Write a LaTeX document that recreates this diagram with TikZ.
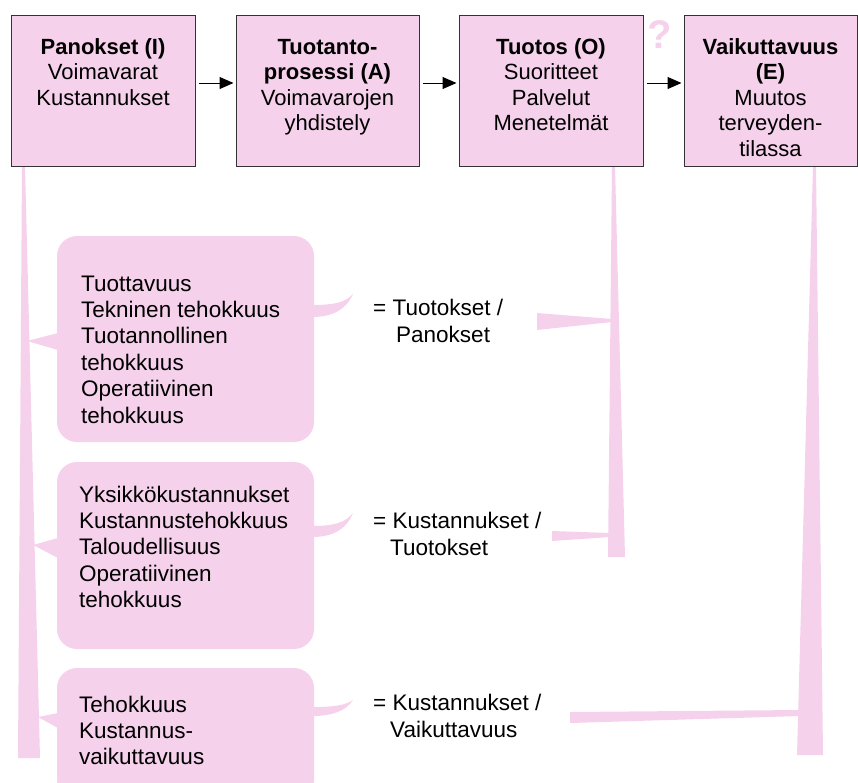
\documentclass[tikz,border=0pt]{standalone}
\usepackage{fontspec}
\setmainfont{Liberation Sans}
\usetikzlibrary{arrows.meta}
\definecolor{rosa}{RGB}{245,209,235}
\tikzset{
  stagebox/.style={draw=black!80, line width=1pt, fill=rosa, minimum height=151pt, inner sep=0pt},
  stagetext/.style={anchor=base, align=center, inner sep=0pt, font=\fontsize{22}{25.5}\selectfont},
  flow/.style={-{Triangle[length=14pt,width=12pt]}, line width=1pt, shorten <=3pt, shorten >=2pt},
  measurebox/.style={fill=rosa, rounded corners=20pt, minimum width=257pt, inner sep=0pt},
  measuretext/.style={anchor=base west, align=left, inner sep=0pt, font=\fontsize{22.5}{26.4}\selectfont},
  ratiotext/.style={anchor=base west, align=left, inner sep=0pt, font=\fontsize{22.5}{27}\selectfont},
}
\begin{document}
\begin{tikzpicture}[x=1pt, y=-1pt]
    \useasboundingbox (0,0) rectangle (858,782);
    \clip (0,0) rectangle (858,782);

    % Tapering bars
    \fill[rosa] (22,166) -- (25,166) -- (40,758) -- (18,758) -- cycle;
    \fill[rosa] (612,166) -- (615,166) -- (625,557) -- (608,557) -- cycle;
    \fill[rosa] (813,166) -- (816,166) -- (823,755) -- (797,755) -- cycle;

    % Wedges towards the ratios
    \fill[rosa] (537,313) -- (612,319) -- (612,322) -- (537,330) -- cycle;
    \fill[rosa] (552,531) -- (610,533) -- (610,537) -- (552,541) -- cycle;
    \fill[rosa] (570,712) -- (800,710) -- (800,716) -- (570,723) -- cycle;

    % Wedges from the left bar
    \fill[rosa] (27,341) -- (58,333) -- (58,350) -- cycle;
    \fill[rosa] (33,545) -- (58,538) -- (58,558) -- cycle;
    \fill[rosa] (38,717) -- (58,713) -- (58,728) -- cycle;

    % Stages (text anchored at the last baseline)
    \node[stagebox, minimum width=184pt] (panokset) at (103,90.5) {};
    \node[stagebox, minimum width=183pt] (prosessi) at (327.5,90.5) {};
    \node[stagebox, minimum width=184pt] (tuotos) at (551,90.5) {};
    \node[stagebox, minimum width=173pt] (vaikutus) at (770.5,90.5) {};

    \node[stagetext] (panokset-t) at (103,105) {\textbf{Panokset (I)}\\Voimavarat\\Kustannukset};
    \node[stagetext] (prosessi-t) at (327.5,130.5) {\textbf{Tuotanto-}\\\textbf{prosessi (A)}\\Voimavarojen\\yhdistely};
    \node[stagetext] (tuotos-t) at (551,130.5) {\textbf{Tuotos (O)}\\Suoritteet\\Palvelut\\Menetelmät};
    \node[stagetext] (vaikutus-t) at (770.5,156) {\textbf{Vaikuttavuus}\\\textbf{(E)}\\Muutos\\terveyden-\\tilassa};

    \draw[flow] (panokset.east |- 0,83) -- (prosessi.west |- 0,83);
    \draw[flow] (prosessi.east |- 0,83) -- (tuotos.west |- 0,83);
    \draw[flow] (tuotos.east |- 0,83) -- (vaikutus.west |- 0,83);

    \node[font=\fontsize{40}{40}\selectfont\bfseries, text=rosa] (kysymys) at (660,35) {?};

    % Measures
    \node[measurebox, minimum height=206pt] (tuottavuus) at (185.5,339) {};
    \node[measurebox, minimum height=187pt] (kustannus) at (185.5,555.5) {};
    \node[measurebox, minimum height=132pt] (tehokkuus) at (185.5,734) {};

    \fill[rosa] (312,305) .. controls (335,305) and (346,302) .. (353,294)
        .. controls (346,310) and (332,317) .. (312,317) -- cycle;
    \fill[rosa] (312,526) .. controls (335,526) and (346,522) .. (353,513)
        .. controls (346,530) and (332,537) .. (312,537) -- cycle;
    \fill[rosa] (312,707) .. controls (335,707) and (346,705) .. (353,700)
        .. controls (346,711) and (332,716) .. (312,716) -- cycle;

    \node[measuretext] (tuottavuus-t) at (81,423) {Tuottavuus\\Tekninen tehokkuus\\Tuotannollinen\\tehokkuus\\Operatiivinen\\tehokkuus};
    \node[measuretext] (kustannus-t) at (79,607.6) {Yksikkökustannukset\\Kustannustehokkuus\\Taloudellisuus\\Operatiivinen\\tehokkuus};
    \node[measuretext] (tehokkuus-t) at (79,764.8) {Tehokkuus\\Kustannus-\\vaikuttavuus};

    % Ratios
    \node[ratiotext] (suhde1) at (373,342) {= Tuotokset /\\\hspace*{23pt}Panokset};
    \node[ratiotext] (suhde2) at (373,555) {= Kustannukset /\\\hspace*{17pt}Tuotokset};
    \node[ratiotext] (suhde3) at (373,737) {= Kustannukset /\\\hspace*{17pt}Vaikuttavuus};
\end{tikzpicture}
\end{document}
